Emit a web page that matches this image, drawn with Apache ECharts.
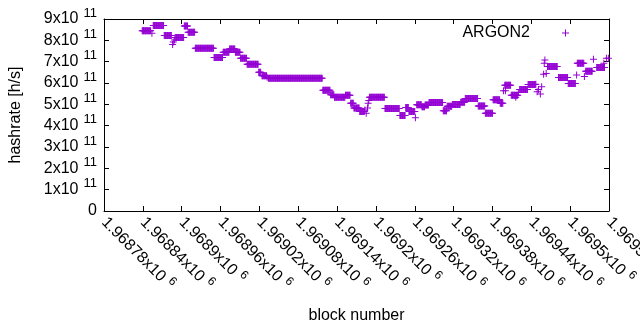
<!DOCTYPE html>
<html><head><meta charset="utf-8">
<script src="https://cdn.jsdelivr.net/npm/echarts@6/dist/echarts.min.js"></script>
<style>html,body{margin:0;padding:0;background:#fff}#c{width:640px;height:330px}</style>
</head><body><div id="c"></div>
<script>
// ---- data (hashrate in units of 1e11 h/s) ----
const seriesName = 'ARGON2';
// runs of consecutive blocks that share one hashrate value
const runStart = [1968839,1968856,1968873,1968890,1968904,1968910,1968921,1968950,1968964,1968974,1968983,1968991,1969001,1969019,1969024,1969034,1969118,1969130,1969136,1969153,1969161,1969166,1969175,1969190,1969214,1969237,1969246,1969251,1969263,1969271,1969276,1969282,1969304,1969310,1969318,1969331,1969338,1969358,1969369,1969381,1969392,1969399,1969409,1969422,1969435,1969465,1969482,1969497,1969511,1969524,1969541];
const runEnd   = [1968852,1968872,1968884,1968903,1968909,1968920,1968949,1968963,1968973,1968982,1968990,1969000,1969018,1969022,1969031,1969117,1969129,1969135,1969152,1969160,1969165,1969174,1969182,1969213,1969236,1969245,1969250,1969260,1969270,1969275,1969281,1969303,1969309,1969317,1969330,1969337,1969357,1969368,1969380,1969391,1969396,1969408,1969419,1969434,1969446,1969480,1969496,1969508,1969521,1969534,1969553];
const runValue = [8.45,8.69,8.23,8.13,8.67,8.38,7.63,7.20,7.44,7.59,7.44,7.16,6.88,6.50,6.34,6.22,5.66,5.45,5.33,5.42,5.05,4.83,4.66,5.33,4.81,4.48,4.85,4.66,4.98,4.89,4.97,5.09,4.70,4.91,4.99,5.10,5.27,4.92,4.58,5.22,5.05,5.89,5.42,5.70,5.93,6.77,6.26,5.98,6.92,6.55,6.73];
// isolated blocks
const pointBlock = [1968854,1968886,1968887,1968889,1969032,1969183,1969185,1969187,1969188,1969189,1969261,1969397,1969400,1969416,1969420,1969447,1969449,1969451,1969454,1969456,1969459,1969460,1969461,1969463,1969510,1969522,1969536,1969552,1969556,1969559];
const pointValue = [8.33,7.81,7.92,8.02,6.27,4.73,4.58,4.83,5.05,5.18,4.37,5.64,5.64,5.33,5.55,5.94,5.59,5.70,5.48,5.83,6.41,6.92,7.08,6.45,6.38,6.30,7.11,6.92,7.16,7.16];
// tick labels
const xTickBase = ['1.96878x10','1.96884x10','1.9689x10','1.96896x10','1.96902x10','1.96908x10','1.96914x10','1.9692x10','1.96926x10','1.96932x10','1.96938x10','1.96944x10','1.9695x10','1.96956x10'];
const xTickExp = '6';
const yTickBase = ['0','1x10','2x10','3x10','4x10','5x10','6x10','7x10','8x10','9x10'];
const yTickExp = '11';

// ---- chart ----
const xMin = 1968780, xMax = 1969560, xStep = 60;
const yMin = 0, yMax = 9e11, yStep = 1e11;
const data = [];
for (let i = 0; i < runStart.length; i++)
  for (let b = runStart[i]; b <= runEnd[i]; b++) data.push([b, runValue[i] * 1e11]);
for (let i = 0; i < pointBlock.length; i++) data.push([pointBlock[i], pointValue[i] * 1e11]);

const FONT = '"Liberation Sans", Arial, sans-serif';
const plus = 'path://M3,0h1v3h3v1h-3v3h-1v-3h-3v-1h3z';
const black = '#000';
const lineAxis = {onZero: false, lineStyle: {color: black, width: 1}};
const tick = {inside: true, length: 5, lineStyle: {color: black, width: 1}};

const chart = echarts.init(document.getElementById('c'), null, {renderer: 'canvas'});
chart.setOption({
  animation: false,
  backgroundColor: '#fff',
  textStyle: {fontFamily: FONT},
  grid: {left: 104, right: 31, top: 19, bottom: 119, containLabel: false, outerBoundsMode: 'none'},
  legend: {
    data: [seriesName], right: 66, top: 20, align: 'right',
    icon: plus, itemWidth: 7, itemHeight: 7,
    textStyle: {fontFamily: FONT, fontSize: 16, color: black, padding: [0, 27, 0, 0]}
  },
  xAxis: [{
    type: 'value', min: xMin, max: xMax, interval: xStep, position: 'bottom',
    name: 'block number', nameLocation: 'middle', nameGap: 97,
    nameTextStyle: {fontFamily: FONT, fontSize: 16, color: black},
    axisLine: lineAxis, axisTick: tick, splitLine: {show: false},
    axisLabel: {
      rotate: -45, margin: 9, interval: 0, showMinLabel: true, showMaxLabel: true, hideOverlap: false,
      color: black, fontFamily: FONT, fontSize: 16,
      formatter: v => {
        const i = Math.round((v - xMin) / xStep);
        return '{a|' + xTickBase[i] + '}{s|' + xTickExp + '}';
      },
      rich: {a: {fontSize: 16, fontFamily: FONT, color: black},
             s: {fontSize: 12, fontFamily: FONT, color: black, padding: [0, 0, 10, 5]}}
    }
  }, {
    type: 'value', min: xMin, max: xMax, interval: xStep, position: 'top',
    axisLine: lineAxis, axisTick: tick, axisLabel: {show: false}, splitLine: {show: false}
  }],
  yAxis: [{
    type: 'value', min: yMin, max: yMax, interval: yStep, position: 'left',
    name: 'hashrate [h/s]', nameLocation: 'middle', nameGap: 80,
    nameTextStyle: {fontFamily: FONT, fontSize: 16, color: black},
    axisLine: lineAxis, axisTick: tick, splitLine: {show: false},
    axisLabel: {
      margin: 7, color: black, fontFamily: FONT, fontSize: 16,
      formatter: v => {
        const i = Math.round((v - yMin) / yStep);
        return i === 0 ? yTickBase[0] : '{a|' + yTickBase[i] + '}{s|' + yTickExp + '}';
      },
      rich: {a: {fontSize: 16, fontFamily: FONT, color: black},
             s: {fontSize: 13, fontFamily: FONT, color: black, padding: [0, 0, 12, 5]}}
    }
  }, {
    type: 'value', min: yMin, max: yMax, interval: yStep, position: 'right',
    axisLine: lineAxis, axisTick: tick, axisLabel: {show: false}, splitLine: {show: false}
  }],
  series: [{
    type: 'scatter', name: seriesName, data: data, xAxisIndex: 0, yAxisIndex: 0,
    symbol: plus, symbolSize: 7, clip: true,
    itemStyle: {color: '#9400d3', opacity: 1}
  }]
});
</script></body></html>
